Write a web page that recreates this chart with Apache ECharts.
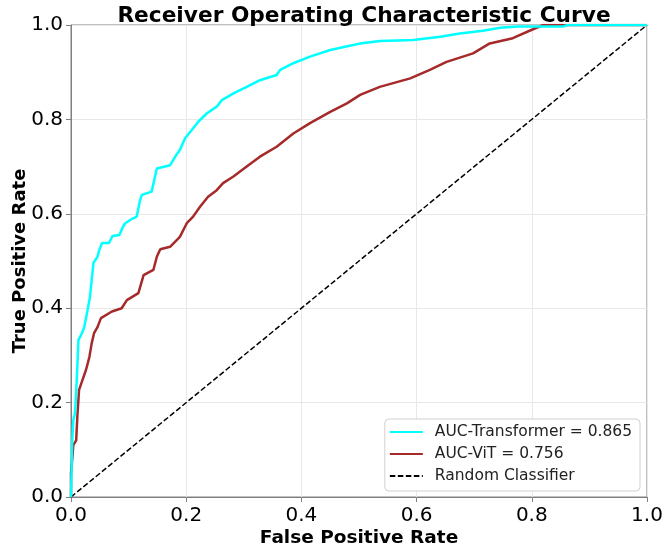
<!DOCTYPE html>
<html>
<head>
<meta charset="utf-8">
<script src="https://cdn.jsdelivr.net/npm/echarts@6/dist/echarts.min.js"></script>
<style>
  html, body { margin: 0; padding: 0; background: #fff; }
  #chart { width: 665px; height: 545px; }
</style>
</head>
<body>
<div id="chart"></div>
<script>
// ROC points
const transformerFpr = [0, 0.002, 0.004, 0.007, 0.010, 0.013, 0.019, 0.023, 0.027, 0.033, 0.036, 0.039, 0.046, 0.049, 0.054, 0.066, 0.072, 0.084, 0.090, 0.094, 0.107, 0.114, 0.120, 0.123, 0.140, 0.149, 0.172, 0.183, 0.189, 0.198, 0.210, 0.221, 0.236, 0.253, 0.262, 0.282, 0.305, 0.328, 0.357, 0.363, 0.386, 0.415, 0.450, 0.502, 0.536, 0.594, 0.641, 0.675, 0.715, 0.745, 0.776, 0.855, 0.862, 1.0];
const transformerTpr = [0, 0.114, 0.163, 0.178, 0.248, 0.333, 0.347, 0.360, 0.385, 0.424, 0.460, 0.496, 0.509, 0.523, 0.538, 0.538, 0.553, 0.555, 0.572, 0.580, 0.590, 0.594, 0.629, 0.640, 0.647, 0.696, 0.703, 0.725, 0.735, 0.760, 0.778, 0.795, 0.813, 0.827, 0.841, 0.855, 0.869, 0.883, 0.894, 0.905, 0.919, 0.933, 0.947, 0.961, 0.966, 0.968, 0.975, 0.982, 0.988, 0.994, 0.997, 0.997, 1.0, 1.0];

const vitFpr = [0, 0, 0.002, 0.004, 0.009, 0.011, 0.014, 0.020, 0.026, 0.032, 0.036, 0.040, 0.046, 0.052, 0.071, 0.088, 0.097, 0.117, 0.126, 0.143, 0.149, 0.155, 0.172, 0.189, 0.201, 0.212, 0.224, 0.238, 0.253, 0.264, 0.282, 0.305, 0.328, 0.357, 0.386, 0.415, 0.450, 0.479, 0.502, 0.536, 0.589, 0.623, 0.652, 0.698, 0.727, 0.767, 0.802, 0.820, 1.0];
const vitTpr = [0, 0.050, 0.078, 0.110, 0.120, 0.170, 0.227, 0.248, 0.269, 0.297, 0.326, 0.347, 0.360, 0.379, 0.393, 0.400, 0.417, 0.432, 0.470, 0.481, 0.509, 0.525, 0.530, 0.551, 0.580, 0.594, 0.615, 0.636, 0.650, 0.665, 0.679, 0.700, 0.721, 0.742, 0.770, 0.792, 0.816, 0.834, 0.852, 0.869, 0.887, 0.905, 0.922, 0.940, 0.961, 0.972, 0.991, 1.0, 1.0];

const chanceFpr = [0, 1];
const chanceTpr = [0, 1];

const names = ['AUC-Transformer = 0.865', 'AUC-ViT = 0.756', 'Random Classifier'];

function pairs(xs, ys) {
  return xs.map((x, i) => [x, ys[i]]);
}

const chart = echarts.init(document.getElementById('chart'), null, { renderer: 'canvas' });

const font = 'DejaVu Sans';

const axisCommon = {
  type: 'value',
  min: 0,
  max: 1,
  interval: 0.2,
  nameLocation: 'middle',
  nameMoveOverlap: false,
  nameTextStyle: { fontFamily: font, fontWeight: 'bold', fontSize: 18, color: '#000' },
  axisLine: { show: true, lineStyle: { color: '#808080', width: 1 } },
  axisTick: { show: true, length: 5, lineStyle: { color: '#808080' } },
  axisLabel: {
    fontFamily: font, fontSize: 20, color: '#000',
    formatter: v => v.toFixed(1)
  },
  splitLine: { show: true, lineStyle: { color: '#e8e8e8', width: 1 } }
};

chart.setOption({
  backgroundColor: '#fff',
  animation: false,
  title: {
    text: 'Receiver Operating Characteristic Curve',
    left: 359,
    top: 0,
    textAlign: 'center',
    textStyle: { fontFamily: font, fontWeight: 'bold', fontSize: 21.7, color: '#000' }
  },
  grid: {
    left: 71, right: 18, top: 25, bottom: 48,
    outerBoundsMode: 'none',
    containLabel: false,
    show: true, borderColor: '#808080', borderWidth: 1
  },
  legend: {
    data: names,
    orient: 'vertical',
    right: 25,
    bottom: 54,
    itemWidth: 33,
    itemHeight: 14,
    itemGap: 6,
    padding: [5, 8, 7, 4],
    borderColor: '#d0d0d0',
    borderWidth: 1,
    borderRadius: 4,
    backgroundColor: '#fff',
    itemStyle: { opacity: 0 },
    textStyle: { fontFamily: font, fontSize: 15.5, color: '#222', padding: [0, 0, 0, 7] }
  },
  xAxis: Object.assign({}, axisCommon, {
    name: 'False Positive Rate',
    nameGap: 32,
    nameTextStyle: Object.assign({}, axisCommon.nameTextStyle, { fontSize: 18.5 }),
    axisLabel: Object.assign({}, axisCommon.axisLabel, { margin: 9 })
  }),
  yAxis: Object.assign({}, axisCommon, {
    name: 'True Positive Rate',
    nameGap: 42,
    axisLabel: Object.assign({}, axisCommon.axisLabel, { margin: 8 })
  }),
  series: [
    {
      name: names[0],
      type: 'line',
      data: pairs(transformerFpr, transformerTpr),
      symbol: 'none',
      lineStyle: { color: '#00ffff', width: 2.5 },
      itemStyle: { color: '#00ffff' },
      z: 4
    },
    {
      name: names[1],
      type: 'line',
      data: pairs(vitFpr, vitTpr),
      symbol: 'none',
      lineStyle: { color: '#a52a2a', width: 2.5 },
      itemStyle: { color: '#a52a2a' },
      z: 3
    },
    {
      name: names[2],
      type: 'line',
      data: pairs(chanceFpr, chanceTpr),
      symbol: 'none',
      lineStyle: { color: '#000', width: 1.5, type: [5.5, 2.5] },
      itemStyle: { color: '#000' },
      z: 2
    }
  ]
});
</script>
</body>
</html>
